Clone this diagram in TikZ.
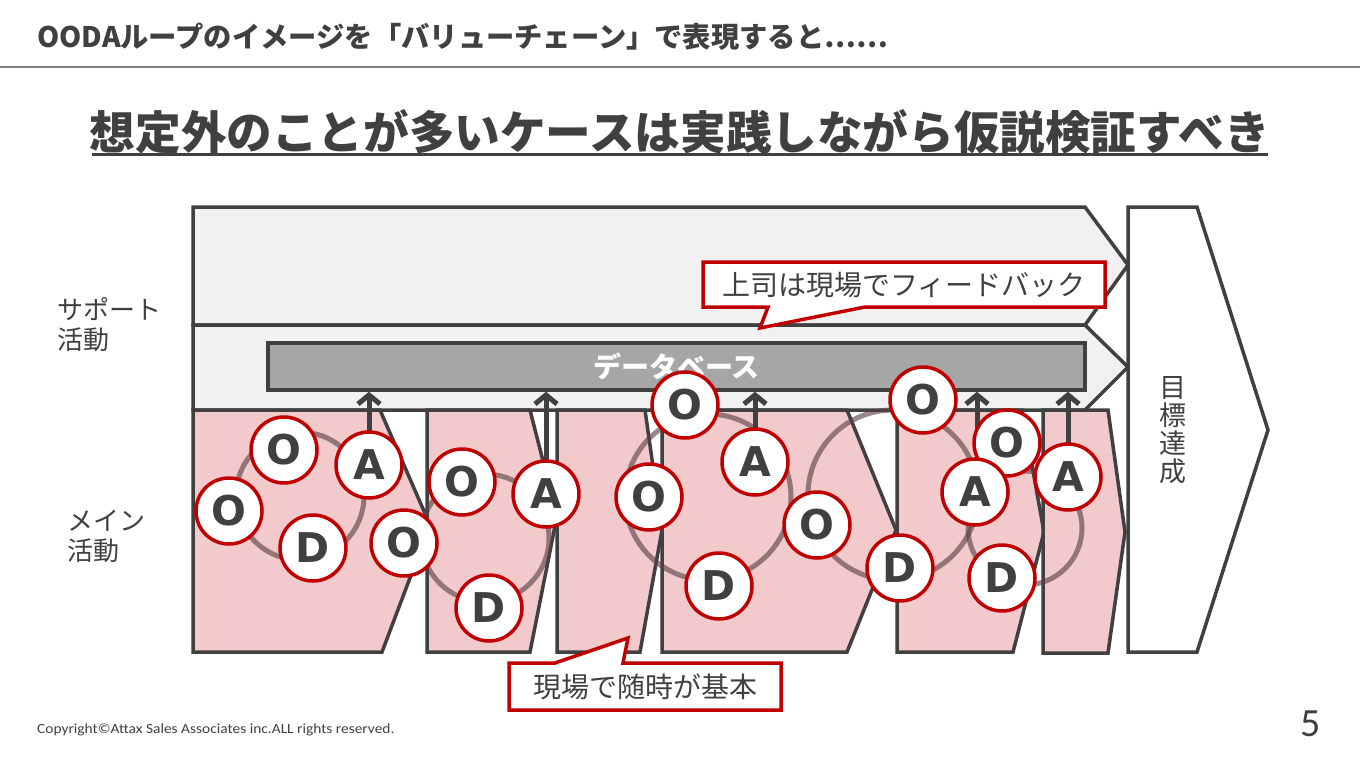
\documentclass[tikz,border=0pt]{standalone}
\usepackage{fontspec}
\setmainfont{Noto Sans CJK JP}
\newfontfamily\latb{DejaVu Sans}
\newfontfamily\copyf{Carlito}
\usetikzlibrary{arrows.meta}
\definecolor{dg}{HTML}{404040}
\definecolor{bandf}{HTML}{F1F1F1}
\definecolor{dbf}{HTML}{A6A6A6}
\definecolor{pinkf}{HTML}{F2CACB}
\definecolor{redc}{HTML}{C00000}
\definecolor{rulec}{HTML}{808080}
\definecolor{loopc}{HTML}{5A4045}
\newcommand\myfs[1]{\fontsize{#1}{#1}\selectfont}
\newcommand\myfsb[2]{\fontsize{#1}{#2}\selectfont}
\begin{document}
\begin{tikzpicture}[x=1pt,y=-1pt,
  band/.style={draw=dg,fill=bandf,line width=3.5pt,line join=miter},
  mainshape/.style={draw=dg,fill=pinkf,line width=3.5pt,line join=miter},
  dbs/.style={draw=dg,fill=dbf,line width=3.5pt,minimum width=817pt,minimum height=47pt,inner sep=0pt,text=white,font=\bfseries\myfs{28}},
  ooda/.style={circle,draw=redc,fill=white,line width=3.5pt,minimum size=66pt,inner sep=0pt,text=dg,font=\latb\bfseries\myfs{41}},
  loopline/.style={draw=loopc,draw opacity=0.62,line width=5pt},
  uparrow/.style={draw=dg,line width=5pt,-{Straight Barb[length=9pt,width=22pt]}},
  callout/.style={draw=redc,fill=white,line width=3.5pt,line join=miter},
  lbl/.style={text=dg,inner sep=0pt,font=\myfs{27}},
]
\useasboundingbox[fill=white] (0,0) rectangle (1360,766);

% header
\node[anchor=west,text=dg,inner sep=0pt,font=\bfseries\myfs{28.3}] (hdr) at (37,37) {OODAループのイメージを「バリューチェーン」で表現すると……};
\draw[rulec,line width=2pt] (0,67) -- (1360,67);

% title
\node[text=dg,inner sep=0pt,font=\bfseries\myfs{45.6}] (ttl) at (680,132) {想定外のことが多いケースは実践しながら仮説検証すべき};
\draw[dg,line width=3pt] (92,154) -- (1268,154);

% side labels
\node[lbl,anchor=west,align=left,font=\myfsb{26}{30}] (sup) at (57,325) {サポート\\活動};
\node[lbl,anchor=west,align=left,font=\myfsb{26}{30}] (mn) at (67,536) {メイン\\活動};

% support bands
\draw[band] (193,207) -- (1085,207) -- (1128,265) -- (1085,325) -- (193,325) -- cycle;
\draw[band] (193,325) -- (1085,325) -- (1128,367) -- (1085,410) -- (193,410) -- cycle;

% database
\node[dbs] (db) at (676.5,366.5) {データベース};

% main activity shapes
\draw[mainshape] (193,410) -- (380,410) -- (430,525) -- (382,652) -- (193,652) -- cycle;
\draw[mainshape] (427,410) -- (530,410) -- (557,516) -- (530,652) -- (427,652) -- cycle;
\draw[mainshape] (557,410) -- (645,410) -- (662,530) -- (640,652) -- (557,652) -- cycle;
\draw[mainshape] (662,410) -- (847,410) -- (896,530) -- (847,652) -- (662,652) -- cycle;
\draw[mainshape] (897,410) -- (1022,410) -- (1044,532) -- (1013,652) -- (897,652) -- cycle;
\draw[mainshape] (1043,410) -- (1108,410) -- (1125,532) -- (1108,653) -- (1043,653) -- cycle;

% circle positions
\coordinate (cO1) at (284,450);
\coordinate (cA1) at (369,465);
\coordinate (cO2) at (229,511);
\coordinate (cD1) at (313,548);
\coordinate (cO3) at (404,543);
\coordinate (cO4) at (462,482);
\coordinate (cA2) at (546,494);
\coordinate (cD2) at (489,608);
\coordinate (cO5) at (685,405);
\coordinate (cA3) at (755,462);
\coordinate (cO6) at (649,497);
\coordinate (cD3) at (719,586);
\coordinate (cO7) at (817,525);
\coordinate (cD4) at (900,568);
\coordinate (cO8) at (923,400);
\coordinate (cO9) at (1007,443);
\coordinate (cA4) at (975,492);
\coordinate (cD5) at (1002,578);
\coordinate (cA5) at (1068,477);
\coordinate (ar4) at (977,470);

% OODA loops
\draw[loopline] (300,496) circle[radius=64];
\draw[loopline] (485,538) circle[radius=64];
\draw[loopline] (708,497) circle[radius=83];
\draw[loopline] (893,495) circle[radius=85];
\draw[loopline] (1025,528) circle[radius=57];

% arrows to database
\draw[uparrow] (cA1) -- (cA1 |- db.south);
\draw[uparrow] (cA2) -- (cA2 |- db.south);
\draw[uparrow] (cA3) -- (cA3 |- db.south);
\draw[uparrow] (ar4) -- (ar4 |- db.south);
\draw[uparrow] (cA5) -- (cA5 |- db.south);

% OODA circles
\node[ooda] (O1) at (cO1) {O};
\node[ooda] (A1) at (cA1) {A};
\node[ooda] (O2) at (cO2) {O};
\node[ooda] (D1) at (cD1) {D};
\node[ooda] (O3) at (cO3) {O};
\node[ooda] (O4) at (cO4) {O};
\node[ooda] (A2) at (cA2) {A};
\node[ooda] (D2) at (cD2) {D};
\node[ooda] (O5) at (cO5) {O};
\node[ooda] (A3) at (cA3) {A};
\node[ooda] (O6) at (cO6) {O};
\node[ooda] (D3) at (cD3) {D};
\node[ooda] (O7) at (cO7) {O};
\node[ooda] (D4) at (cD4) {D};
\node[ooda] (O8) at (cO8) {O};
\node[ooda] (O9) at (cO9) {O};
\node[ooda] (A4) at (cA4) {A};
\node[ooda] (D5) at (cD5) {D};
\node[ooda] (A5) at (cA5) {A};

% callouts
\draw[callout] (703,262) -- (1105,262) -- (1105,307) -- (865,307) -- (760,328) -- (768,307) -- (703,307) -- cycle;
\node[lbl,font=\myfs{28}] (cb1) at (904,285) {上司は現場でフィードバック};
\draw[callout] (509,663) -- (555,663) -- (628,638) -- (623,663) -- (781,663) -- (781,710) -- (509,710) -- cycle;
\node[lbl,font=\myfs{28}] (cb2) at (645,687) {現場で随時が基本};

% goal chevron
\draw[band,fill=white] (1128,207) -- (1197,207) -- (1268,430) -- (1197,652) -- (1128,652) -- cycle;
\node[lbl,align=center,font=\myfsb{27}{28}] (goal) at (1173,430) {目\\標\\達\\成};

% footer
\node[anchor=west,text=dg,inner sep=0pt,font=\copyf\myfs{14}] (copy) at (37,730) {\scalebox{1.1}[1]{Copyright©Attax Sales Associates inc.ALL rights reserved.}};
\node[text=dg,inner sep=0pt,font=\copyf\myfs{40}] (pg) at (1311,724) {5};
\end{tikzpicture}
\end{document}
